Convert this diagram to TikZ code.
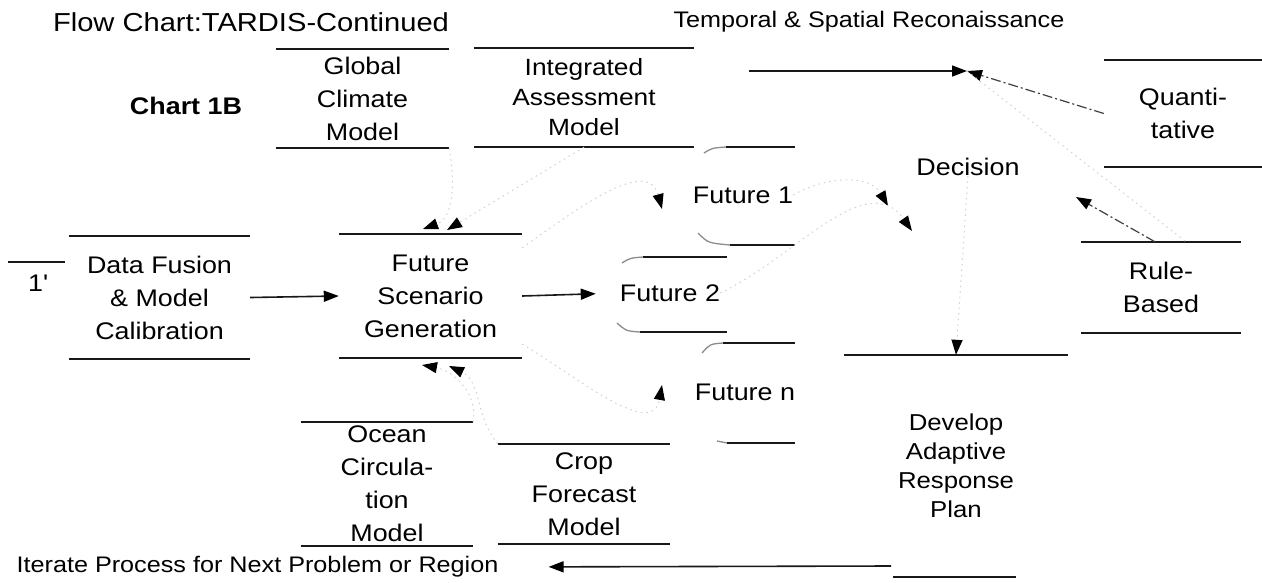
\documentclass[tikz,border=0pt]{standalone}
\usepackage{fontspec}
\setmainfont{Liberation Sans}[FakeStretch=1.12]
\usetikzlibrary{arrows.meta,calc}
\begin{document}
\begin{tikzpicture}[x=1pt,y=1pt,
  txt/.style={font=\fontsize{24}{33}\selectfont, align=center, inner sep=0pt},
  smalltxt/.style={font=\fontsize{23.5}{30}\selectfont, align=center, inner sep=0pt},
  sline/.style={line width=1.6pt, black!90},
  softline/.style={line width=1.3pt, black!45},
  arrowtip/.style={-{Triangle[length=15pt,width=11pt,color=black,fill=black]}},
  dashline/.style={line width=1.2pt, black!75, dash pattern=on 10pt off 3pt on 2pt off 3pt},
  faint/.style={line width=1pt, black!18, dash pattern=on 1.5pt off 4pt},
]
% canvas
\fill[white] (0,0) rectangle (1262,-582);
\useasboundingbox (0,0) rectangle (1262,-582);

% headings
\node[txt, font=\fontsize{26}{30}\selectfont] (title) at (251,-22) {Flow Chart:TARDIS-Continued};
\node[txt, font=\fontsize{22.5}{30}\selectfont] (tsrlabel) at (869,-22) {Temporal \& Spatial Reconaissance};
\node[txt, font=\bfseries\fontsize{24}{30}\selectfont] (chart) at (186,-106) {Chart 1B};

% data stores (text between two rules)
\node[txt, minimum width=173pt, minimum height=99pt] (gcm) at (362.5,-98.5) {Global\\Climate\\Model};
\node[smalltxt, minimum width=220pt, minimum height=99pt] (iam) at (584,-97.5) {Integrated\\Assessment\\Model};
\node[txt, minimum width=181pt, minimum height=123pt] (dfm) at (159.5,-297.5) {Data Fusion\\\& Model\\Calibration};
\node[txt, minimum width=183pt, minimum height=124pt] (fsg) at (430.5,-296) {Future\\Scenario\\Generation};
\node[txt, minimum width=172pt, minimum height=124pt] (ocm) at (387,-484) {Ocean\\Circula-\\tion\\Model};
\node[txt, minimum width=172pt, minimum height=100pt] (cfm) at (584,-494) {Crop\\Forecast\\Model};
\node[txt, minimum width=158pt, minimum height=107pt] (quant) at (1183,-113.5) {Quanti-\\tative};
\node[txt, minimum width=160pt, minimum height=91pt] (rule) at (1161,-287.5) {Rule-\\Based};
\node[font=\fontsize{23}{29}\selectfont, align=center, inner sep=0pt,
      minimum width=223pt, minimum height=222pt] (dev) at (956,-466) {Develop\\Adaptive\\Response\\Plan};

\foreach \n in {gcm,iam,dfm,fsg,ocm,cfm,quant,rule} {
  \draw[sline] (\n.north west) -- (\n.north east);
  \draw[sline] (\n.south west) -- (\n.south east);
}
\draw[sline] (dev.north west) -- (dev.north east);
\draw[sline] ($(dev.south)+(-63,0)$) -- ($(dev.south)+(60,0)$);

% processes and scenario outputs
\node[txt] (dec) at (968,-167) {Decision};
\node[txt] (f1) at (743,-195) {Future 1};
\node[txt] (f2) at (670,-293) {Future 2};
\node[txt] (fn) at (745,-392) {Future n};

% partial rounded outlines of the future boxes
\draw[softline] (704,-153) .. controls (712,-148) .. (726,-147);
\draw[sline] (726,-147) -- (795,-147);
\draw[softline] (698,-233) .. controls (708,-243) .. (730,-245);
\draw[sline] (730,-245) -- (795,-245);
\draw[softline] (622,-263) .. controls (630,-258) .. (643,-257);
\draw[sline] (643,-257) -- (727,-257);
\draw[softline] (617,-323) .. controls (626,-331) .. (640,-332);
\draw[sline] (640,-332) -- (727,-332);
\draw[softline] (702,-353) .. controls (710,-344) .. (723,-343);
\draw[sline] (723,-343) -- (795,-343);
\draw[softline] (717,-441) -- (727,-443);
\draw[sline] (727,-443) -- (795,-443);

% off-page connector
\node[txt] (onep) at (38,-283) {1\textquotesingle};
\draw[sline] ($(onep)+(-30,21)$) -- ($(onep)+(27,21)$);

% iterate
\node[txt, font=\fontsize{22.5}{30}\selectfont] (iter) at (257.5,-567) {Iterate Process for Next Problem or Region};

% connection points
\coordinate (tsr) at (967,-71);
\coordinate (tsrin) at (749,-71);
\coordinate (decR) at (1076,-197);
\coordinate (decL1) at (888,-206);
\coordinate (decL2) at (912,-231);
\coordinate (f1tip) at (662,-209);
\coordinate (fntip) at (662,-385);
\coordinate (fsgT1) at (423,-229);
\coordinate (fsgT2) at (447,-230);
\coordinate (fsgB1) at (422,-365);
\coordinate (fsgB2) at (449,-366);
\coordinate (devout) at (891,-566);

% solid flows
\draw[sline, arrowtip] (dfm.east) -- (fsg.west);
\draw[sline, arrowtip, shorten >=24pt] (fsg.east) -- (f2.west);
\draw[sline, arrowtip] (tsrin) -- (tsr);
\draw[sline, arrowtip, shorten >=50pt] (devout) -- (iter.east);

% dashed flows
\draw[dashline, arrowtip] (quant.west) -- (tsr);
\draw[dashline, arrowtip] ($(rule.north)+(-6,0)$) -- (decR);

% faint flows
\draw[faint, arrowtip] (dec.south) -- (dev.north);
\draw[faint, arrowtip] (f1.east) to[out=30,in=120] (decL1);
\draw[faint, arrowtip] (f2.east) to[out=25,in=125] (decL2);
\draw[faint, arrowtip] ($(fsg.north east)+(0,-14)$) to[out=35,in=105] (f1tip);
\draw[faint, arrowtip] ($(fsg.south east)+(0,14)$) to[out=-30,in=-100] (fntip);
\draw[faint, arrowtip] (iam.south) -- (fsgT2);
\draw[faint, arrowtip] (gcm.south east) to[out=-80,in=20] (fsgT1);
\draw[faint, arrowtip] (cfm.north west) to[out=130,in=-25] (fsgB2);
\draw[faint, arrowtip] (ocm.north east) to[out=80,in=-10] (fsgB1);
\draw[faint] (tsr) -- ($(rule.north)+(25,0)$);
\end{tikzpicture}
\end{document}
